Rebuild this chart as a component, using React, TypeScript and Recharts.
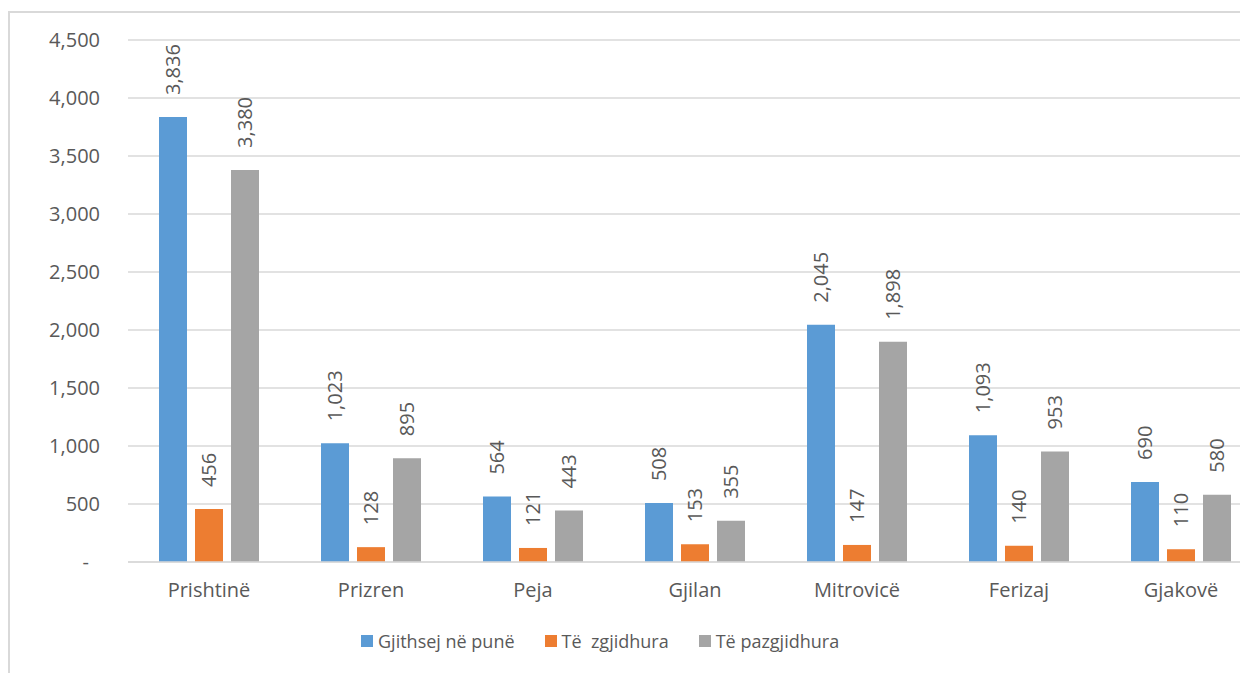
import { Bar, BarChart, CartesianGrid, LabelList, Legend, XAxis, YAxis } from "recharts";

const regions = ["Prishtinë", "Prizren", "Peja", "Gjilan", "Mitrovicë", "Ferizaj", "Gjakovë"];
const totalAtWork = [3836, 1023, 564, 508, 2045, 1093, 690];
const resolved = [456, 128, 121, 153, 147, 140, 110];
const unresolved = [3380, 895, 443, 355, 1898, 953, 580];
const yTicks = [0, 500, 1000, 1500, 2000, 2500, 3000, 3500, 4000, 4500];

const seriesInfo = [
  { key: "total", name: "Gjithsej në punë", color: "#5B9BD5" },
  { key: "resolved", name: "Të  zgjidhura", color: "#ED7D31" },
  { key: "unresolved", name: "Të pazgjidhura", color: "#A5A5A5" }
];

const data = regions.map((name, i) => ({
  name,
  total: totalAtWork[i],
  resolved: resolved[i],
  unresolved: unresolved[i]
}));

const FONT = "'Open Sans', sans-serif";
const TEXT = "#595959";

function fmt(v: number) {
  return v.toLocaleString("en-US");
}

// Excel accounting format shows zero as a dash with padding on the right
function YTick(props: any) {
  const { x, y, payload } = props;
  const v = Number(payload.value);
  return (
    <text
      x={v === 0 ? x - 11 : x}
      y={y}
      dy="0.355em"
      textAnchor="end"
      fill={TEXT}
      fontSize={20}
      fontFamily={FONT}
    >
      {v === 0 ? "-" : fmt(v)}
    </text>
  );
}

function VerticalLabel(props: any) {
  const { x, y, width, value } = props;
  const cx = Number(x) + Number(width) / 2;
  const ty = Number(y) - 22;
  return (
    <text
      x={cx}
      y={ty}
      transform={`rotate(-90 ${cx} ${ty})`}
      textAnchor="start"
      dominantBaseline="central"
      fill={TEXT}
      fontSize={20}
      fontFamily={FONT}
    >
      {fmt(Number(value))}
    </text>
  );
}

function LegendContent() {
  return (
    <div style={{ display: "flex", alignItems: "center", height: 24, fontFamily: FONT, fontSize: 18, color: TEXT }}>
      {seriesInfo.map((s, i) => (
        <div key={s.key} style={{ display: "flex", alignItems: "center", marginLeft: i === 0 ? 0 : 30 }}>
          <span style={{ width: 12, height: 12, background: s.color, display: "inline-block", marginRight: 5 }} />
          <span style={{ whiteSpace: "pre" }}>{s.name}</span>
        </div>
      ))}
    </div>
  );
}

export default function App() {
  return (
    <div
      style={{
        marginTop: 3,
        width: 1238,
        height: 662,
        overflow: "hidden",
        borderLeft: "2px solid #d9d9d9",
        borderTop: "2px solid #d9d9d9",
        background: "#fff"
      }}
    >
      <BarChart
        width={1262}
        height={660}
        data={data}
        margin={{ top: 27, right: 10, left: 0, bottom: 47 }}
        barSize={28}
        barGap={8}
      >
        <CartesianGrid stroke="#d9d9d9" strokeWidth={1.5} vertical={false} />
        <XAxis
          dataKey="name"
          axisLine={{ stroke: "#d9d9d9", strokeWidth: 1.5 }}
          tickLine={false}
          tickSize={0}
          tickMargin={21}
          height={40}
          tick={{ fill: TEXT, fontSize: 20, fontFamily: FONT }}
          interval={0}
        />
        <YAxis
          width={118}
          domain={[0, 4500]}
          ticks={yTicks}
          axisLine={false}
          tickLine={false}
          tickSize={0}
          tickMargin={28}
          tick={<YTick />}
          interval={0}
        />
        <Legend
          verticalAlign="bottom"
          content={<LegendContent />}
          wrapperStyle={{ top: 616, left: 351, width: "auto", height: 24 }}
        />
        {seriesInfo.map((s) => (
          <Bar key={s.key} dataKey={s.key} name={s.name} fill={s.color} isAnimationActive={false}>
            <LabelList dataKey={s.key} content={<VerticalLabel />} />
          </Bar>
        ))}
      </BarChart>
    </div>
  );
}
